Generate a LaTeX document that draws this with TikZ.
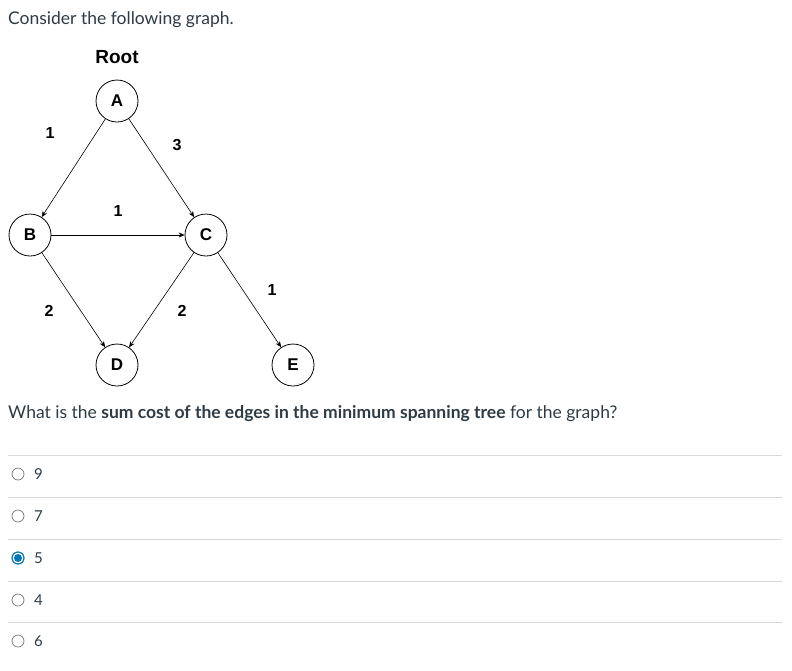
\documentclass[tikz,border=0pt]{standalone}
\usepackage{fontspec}
\setmainfont{Lato}
\newfontfamily\arial{Liberation Sans}
\usetikzlibrary{arrows.meta}
\definecolor{txt}{HTML}{2D3B45}
\definecolor{sel}{HTML}{0374B5}
\begin{document}
\begin{tikzpicture}[x=1pt,y=-1pt,
  vert/.style={circle,draw,thick,minimum size=42pt,inner sep=0pt,font=\arial\bfseries\fontsize{17}{19}\selectfont},
  wt/.style={font=\arial\bfseries\fontsize{16}{18}\selectfont},
  edge/.style={-{Stealth[length=6pt,width=5pt]},line width=0.6pt},
  body/.style={anchor=west,text=txt,font=\fontsize{17.5}{20}\selectfont,inner sep=0pt},
  opt/.style={anchor=west,text=txt,font=\fontsize{15}{18}\selectfont,inner sep=0pt},
  sep/.style={draw=black!15,line width=0.6pt},
  radio/.style={circle,draw=black!55,line width=0.7pt,minimum size=12pt,inner sep=0pt}]
\useasboundingbox (0,0) rectangle (792,670);
\node[body] (q1) at (8,20) {Consider the following graph.};
\node[wt,font=\arial\bfseries\fontsize{19}{21}\selectfont] (root) at (117,57) {Root};
\node[vert] (A) at (117,101) {A};
\node[vert] (B) at (30,235) {B};
\node[vert] (C) at (206,235) {C};
\node[vert] (D) at (117,365) {D};
\node[vert] (E) at (293,365) {E};
\draw[edge] (A) -- (B);
\draw[edge] (A) -- (C);
\draw[edge] (B) -- (C);
\draw[edge] (B) -- (D);
\draw[edge] (C) -- (D);
\draw[edge] (C) -- (E);
\node[wt] (w1) at (50,133) {1};
\node[wt] (w2) at (177,145) {3};
\node[wt] (w3) at (118,211) {1};
\node[wt] (w4) at (272,290) {1};
\node[wt] (w5) at (49,311) {2};
\node[wt] (w6) at (182,311) {2};
\node[body] (q2) at (8,414) {What is the \textbf{sum cost of the edges in the minimum spanning tree} for the graph?};
\foreach \y in {455,497,539,581,622} \draw[sep] (8,\y) -- (782,\y);
\foreach \y/\t/\n in {474/9/o1,516/7/o2,600/4/o4,641/6/o5} {
  \node[radio] (r\n) at (18,\y) {};
  \node[opt] (l\n) at (34,\y) {\t};
}
\node[radio,draw=sel,line width=1.2pt] (ro3) at (18,558) {};
\fill[sel] (ro3.center) circle (4pt);
\node[opt] (lo3) at (34,558) {5};
\end{tikzpicture}
\end{document}
